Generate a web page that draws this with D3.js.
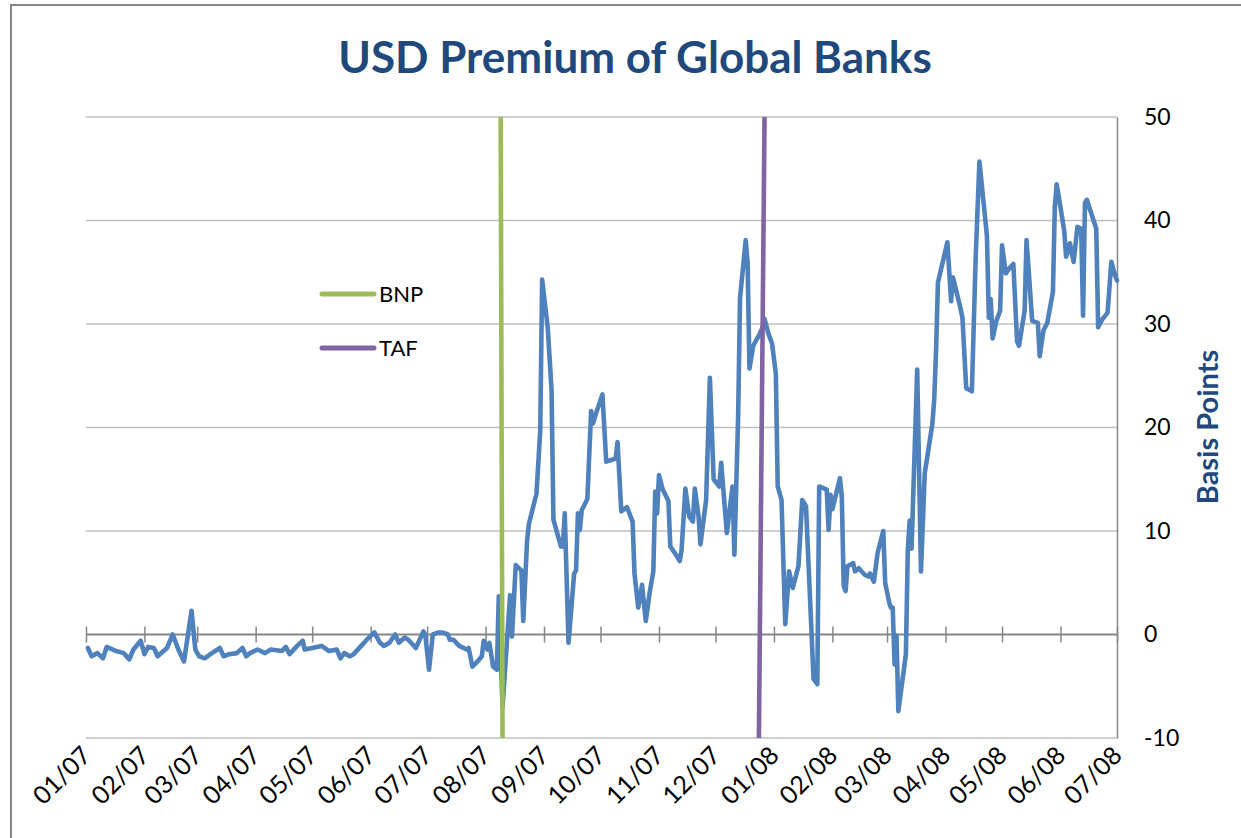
<!DOCTYPE html>
<html>
<head>
<meta charset="utf-8">
<script src="https://cdn.jsdelivr.net/npm/d3@7"></script>
<style>
  body { margin: 0; background: #fff; }
  text { font-family: Lato, "Open Sans", sans-serif; }
</style>
</head>
<body>
<svg id="chart" width="1241" height="838"></svg>
<script>
// USD premium, basis points
const premium = [
  ["2007-01-02", -1.3], ["2007-01-04", -2.1], ["2007-01-07", -1.8], ["2007-01-10", -2.3],
  ["2007-01-12", -1.2], ["2007-01-17", -1.6], ["2007-01-21", -1.8], ["2007-01-24", -2.4],
  ["2007-01-26", -1.5], ["2007-01-30", -0.6], ["2007-02-01", -1.9], ["2007-02-03", -1.2],
  ["2007-02-06", -1.3], ["2007-02-08", -2.1], ["2007-02-13", -1.3], ["2007-02-16", 0.0],
  ["2007-02-19", -1.45], ["2007-02-22", -2.6], ["2007-02-26", 2.3], ["2007-02-28", -1.45],
  ["2007-03-02", -2.1], ["2007-03-05", -2.3], ["2007-03-08", -1.9], ["2007-03-13", -1.3],
  ["2007-03-15", -2.1], ["2007-03-18", -1.9], ["2007-03-22", -1.8], ["2007-03-25", -1.3],
  ["2007-03-27", -2.1], ["2007-03-29", -1.8], ["2007-04-02", -1.45], ["2007-04-06", -1.8],
  ["2007-04-09", -1.45], ["2007-04-15", -1.6], ["2007-04-17", -1.2], ["2007-04-19", -1.9],
  ["2007-04-23", -1.1], ["2007-04-26", -0.6], ["2007-04-27", -1.45], ["2007-05-01", -1.3],
  ["2007-05-06", -1.1], ["2007-05-10", -1.6], ["2007-05-14", -1.45], ["2007-05-16", -2.3],
  ["2007-05-18", -1.8], ["2007-05-21", -2.1], ["2007-05-23", -1.9], ["2007-05-27", -1.1],
  ["2007-05-30", -0.5], ["2007-06-03", 0.2], ["2007-06-06", -0.8], ["2007-06-08", -1.1],
  ["2007-06-11", -0.8], ["2007-06-14", 0.0], ["2007-06-16", -0.8], ["2007-06-19", -0.3],
  ["2007-06-21", -0.5], ["2007-06-25", -1.3], ["2007-06-29", 0.3], ["2007-06-30", 0.0],
  ["2007-07-02", -3.4], ["2007-07-04", 0.0], ["2007-07-07", 0.2], ["2007-07-09", 0.2],
  ["2007-07-12", 0.0], ["2007-07-13", -0.5], ["2007-07-15", -0.5], ["2007-07-18", -1.1],
  ["2007-07-22", -1.45], ["2007-07-23", -1.3], ["2007-07-25", -3.1], ["2007-07-27", -2.75],
  ["2007-07-30", -2.1], ["2007-07-31", -0.6], ["2007-08-02", -1.45], ["2007-08-03", -0.8],
  ["2007-08-05", -3.1], ["2007-08-07", -3.4], ["2007-08-08", 3.7], ["2007-08-10", -7.0],
  ["2007-08-14", 3.8], ["2007-08-15", -0.2], ["2007-08-17", 6.7], ["2007-08-20", 6.2],
  ["2007-08-21", 1.3], ["2007-08-23", 9.0], ["2007-08-24", 10.7], ["2007-08-28", 13.6],
  ["2007-08-30", 19.7], ["2007-08-31", 34.3], ["2007-09-03", 29.6], ["2007-09-05", 23.6],
  ["2007-09-06", 11.1], ["2007-09-10", 8.5], ["2007-09-11", 8.5], ["2007-09-12", 11.7],
  ["2007-09-14", -0.8], ["2007-09-17", 5.9], ["2007-09-18", 6.2], ["2007-09-19", 11.7],
  ["2007-09-20", 10.1], ["2007-09-21", 12.0], ["2007-09-24", 13.1], ["2007-09-26", 21.6],
  ["2007-09-27", 20.4], ["2007-09-29", 21.6], ["2007-10-02", 23.2], ["2007-10-04", 16.7],
  ["2007-10-09", 17.0], ["2007-10-10", 18.6], ["2007-10-12", 11.9], ["2007-10-15", 12.3],
  ["2007-10-18", 10.9], ["2007-10-19", 5.9], ["2007-10-21", 2.6], ["2007-10-23", 4.8],
  ["2007-10-25", 1.3], ["2007-10-27", 4.0], ["2007-10-29", 6.1], ["2007-10-30", 13.8],
  ["2007-10-31", 11.7], ["2007-11-01", 15.4], ["2007-11-03", 14.0], ["2007-11-06", 12.9],
  ["2007-11-07", 8.5], ["2007-11-10", 7.7], ["2007-11-12", 7.1], ["2007-11-13", 8.2],
  ["2007-11-15", 14.1], ["2007-11-17", 11.4], ["2007-11-19", 10.9], ["2007-11-20", 14.1],
  ["2007-11-22", 11.4], ["2007-11-23", 8.7], ["2007-11-26", 13.0], ["2007-11-28", 24.8],
  ["2007-11-30", 15.0], ["2007-12-03", 14.3], ["2007-12-04", 16.6], ["2007-12-07", 9.8],
  ["2007-12-10", 14.3], ["2007-12-11", 7.7], ["2007-12-13", 21.1], ["2007-12-14", 32.5],
  ["2007-12-17", 38.1], ["2007-12-18", 36.0], ["2007-12-19", 25.7], ["2007-12-21", 27.9],
  ["2007-12-24", 28.9], ["2007-12-26", 29.7], ["2007-12-27", 30.5], ["2007-12-29", 29.1],
  ["2007-12-31", 28.1], ["2008-01-02", 25.2], ["2008-01-03", 14.3], ["2008-01-05", 13.0],
  ["2008-01-07", 1.0], ["2008-01-09", 6.1], ["2008-01-11", 4.5], ["2008-01-14", 6.6],
  ["2008-01-16", 13.0], ["2008-01-18", 12.4], ["2008-01-22", -4.3], ["2008-01-24", -4.8],
  ["2008-01-25", 14.3], ["2008-01-29", 14.0], ["2008-01-30", 10.1], ["2008-01-31", 13.5],
  ["2008-02-01", 12.1], ["2008-02-05", 15.1], ["2008-02-06", 13.3], ["2008-02-07", 4.7],
  ["2008-02-08", 4.2], ["2008-02-09", 6.6], ["2008-02-12", 6.9], ["2008-02-13", 6.1],
  ["2008-02-15", 6.4], ["2008-02-18", 5.8], ["2008-02-20", 5.6], ["2008-02-21", 5.9],
  ["2008-02-23", 5.1], ["2008-02-25", 7.9], ["2008-02-28", 10.0], ["2008-02-29", 5.0],
  ["2008-03-02", 3.2], ["2008-03-03", 2.6], ["2008-03-04", 2.6], ["2008-03-05", -2.9],
  ["2008-03-06", -0.1], ["2008-03-07", -7.4], ["2008-03-11", -1.9], ["2008-03-12", 8.1],
  ["2008-03-13", 11.0], ["2008-03-14", 8.3], ["2008-03-17", 25.6], ["2008-03-19", 6.1],
  ["2008-03-21", 15.6], ["2008-03-25", 20.3], ["2008-03-26", 22.6], ["2008-03-27", 27.4],
  ["2008-03-28", 34.0], ["2008-04-02", 37.9], ["2008-04-04", 32.2], ["2008-04-05", 34.5],
  ["2008-04-09", 31.5], ["2008-04-10", 30.6], ["2008-04-12", 23.8], ["2008-04-15", 23.5],
  ["2008-04-17", 36.3], ["2008-04-19", 45.7], ["2008-04-23", 38.5], ["2008-04-24", 30.6],
  ["2008-04-25", 32.4], ["2008-04-26", 28.6], ["2008-04-28", 30.3], ["2008-04-30", 31.3],
  ["2008-05-01", 37.6], ["2008-05-03", 34.9], ["2008-05-05", 35.4], ["2008-05-07", 35.8],
  ["2008-05-09", 28.3], ["2008-05-10", 27.9], ["2008-05-13", 31.3], ["2008-05-14", 38.1],
  ["2008-05-17", 30.3], ["2008-05-20", 30.1], ["2008-05-21", 26.9], ["2008-05-23", 29.4],
  ["2008-05-25", 30.1], ["2008-05-28", 33.1], ["2008-05-29", 41.3], ["2008-05-30", 43.5],
  ["2008-06-01", 41.3], ["2008-06-03", 39.0], ["2008-06-04", 36.5], ["2008-06-06", 37.8],
  ["2008-06-08", 36.0], ["2008-06-10", 39.4], ["2008-06-12", 39.2], ["2008-06-13", 30.8],
  ["2008-06-14", 41.7], ["2008-06-15", 42.0], ["2008-06-20", 39.2], ["2008-06-21", 29.7],
  ["2008-06-23", 30.4], ["2008-06-26", 31.1], ["2008-06-28", 36.0], ["2008-06-30", 34.7],
  ["2008-07-01", 34.2]
];

// event markers: [date, value] endpoints
const bnpLine = [["2007-08-09", 50], ["2007-08-10", -10]];
const tafLine = [["2007-12-27", 50], ["2007-12-24", -10]];

const monthTicks = ["2007-01-01", "2007-02-01", "2007-03-01", "2007-04-01", "2007-05-01",
  "2007-06-01", "2007-07-01", "2007-08-01", "2007-09-01", "2007-10-01", "2007-11-01",
  "2007-12-01", "2008-01-01", "2008-02-01", "2008-03-01", "2008-04-01", "2008-05-01",
  "2008-06-01", "2008-07-01"];
const yTicks = [-10, 0, 10, 20, 30, 40, 50];

const parse = d3.timeParse("%Y-%m-%d");
const fmt = d3.timeFormat("%m/%y");

const svg = d3.select("#chart");
const plotLeft = 86, plotRight = 1117, plotTop = 117, plotBottom = 738;

const x = d3.scaleTime()
    .domain([parse("2007-01-01"), parse("2008-07-01")])
    .range([plotLeft, plotRight]);
const y = d3.scaleLinear()
    .domain([-10, 50])
    .range([plotBottom, plotTop]);

// outer chart border
svg.append("rect")
    .attr("x", 11).attr("y", 5)
    .attr("width", 1260).attr("height", 860)
    .attr("fill", "none")
    .attr("stroke", "#868686")
    .attr("stroke-width", 2);

// horizontal gridlines
svg.append("g")
    .selectAll("line")
    .data(yTicks.filter(d => d !== 0))
    .enter().append("line")
    .attr("x1", plotLeft).attr("x2", plotRight)
    .attr("y1", d => y(d)).attr("y2", d => y(d))
    .attr("stroke", "#BFBFBF")
    .attr("stroke-width", 1.5);

// right value axis (plain hyphen for negatives, like the original)
const yAxis = d3.axisRight(y)
    .tickValues(yTicks)
    .tickSize(0)
    .tickPadding(27)
    .tickFormat(d => String(d));
svg.append("g")
    .attr("transform", `translate(${plotRight},0)`)
    .call(yAxis)
    .call(g => g.select(".domain").attr("stroke", "#868686").attr("stroke-width", 1.5))
    .call(g => g.selectAll("text")
        .attr("font-family", "Lato")
        .attr("font-size", 23)
        .attr("fill", "#000"));

// zero line with crossing tick marks
const zeroAxis = d3.axisBottom(x)
    .tickValues(monthTicks.map(parse))
    .tickSize(16)
    .tickFormat("");
svg.append("g")
    .attr("transform", `translate(0,${y(0) - 8})`)
    .call(zeroAxis)
    .call(g => g.select(".domain").remove())
    .call(g => g.selectAll(".tick line").attr("stroke", "#868686").attr("stroke-width", 1.5));
svg.append("line")
    .attr("x1", plotLeft).attr("x2", plotRight)
    .attr("y1", y(0)).attr("y2", y(0))
    .attr("stroke", "#868686")
    .attr("stroke-width", 2);

// month labels along the bottom
const labelAxis = d3.axisBottom(x)
    .tickValues(monthTicks.map(parse))
    .tickSize(0)
    .tickFormat(fmt);
svg.append("g")
    .attr("transform", `translate(0,${plotBottom})`)
    .call(labelAxis)
    .call(g => g.select(".domain").remove())
    .call(g => g.selectAll("text")
        .attr("font-family", "Lato")
        .attr("font-size", 25)
        .attr("fill", "#000")
        .attr("text-anchor", "end")
        .attr("dy", 0)
        .attr("y", 0)
        .attr("transform", "translate(6,19) rotate(-45)"));

// the premium series
const line = d3.line()
    .x(d => x(parse(d[0])))
    .y(d => y(d[1]));

svg.append("path")
    .datum(premium)
    .attr("d", line)
    .attr("fill", "none")
    .attr("stroke", "#4F81BD")
    .attr("stroke-width", 4.6)
    .attr("stroke-linejoin", "round")
    .attr("stroke-linecap", "round");

// event lines
svg.append("path")
    .datum(bnpLine)
    .attr("d", line)
    .attr("stroke", "#9BBB59")
    .attr("stroke-width", 4.6);
svg.append("path")
    .datum(tafLine)
    .attr("d", line)
    .attr("stroke", "#8064A2")
    .attr("stroke-width", 4.6);

// legend
const legend = [["BNP", "#9BBB59"], ["TAF", "#8064A2"]];
const lg = svg.append("g").selectAll("g")
    .data(legend)
    .enter().append("g")
    .attr("transform", (d, i) => `translate(322,${294 + i * 54})`);
lg.append("line")
    .attr("x1", 0).attr("x2", 52)
    .attr("stroke", d => d[1])
    .attr("stroke-width", 5)
    .attr("stroke-linecap", "round");
lg.append("text")
    .attr("x", 57).attr("y", 8)
    .attr("font-size", 22)
    .attr("fill", "#000")
    .text(d => d[0]);

// title
svg.append("text")
    .attr("x", 635).attr("y", 73)
    .attr("text-anchor", "middle")
    .attr("font-size", 44)
    .attr("font-weight", "bold")
    .attr("fill", "#1F497D")
    .text("USD Premium of Global Banks");

// axis title
svg.append("text")
    .attr("transform", "translate(1218,427) rotate(-90)")
    .attr("text-anchor", "middle")
    .attr("font-size", 29)
    .attr("font-weight", "bold")
    .attr("fill", "#1F497D")
    .text("Basis Points");
</script>
</body>
</html>
